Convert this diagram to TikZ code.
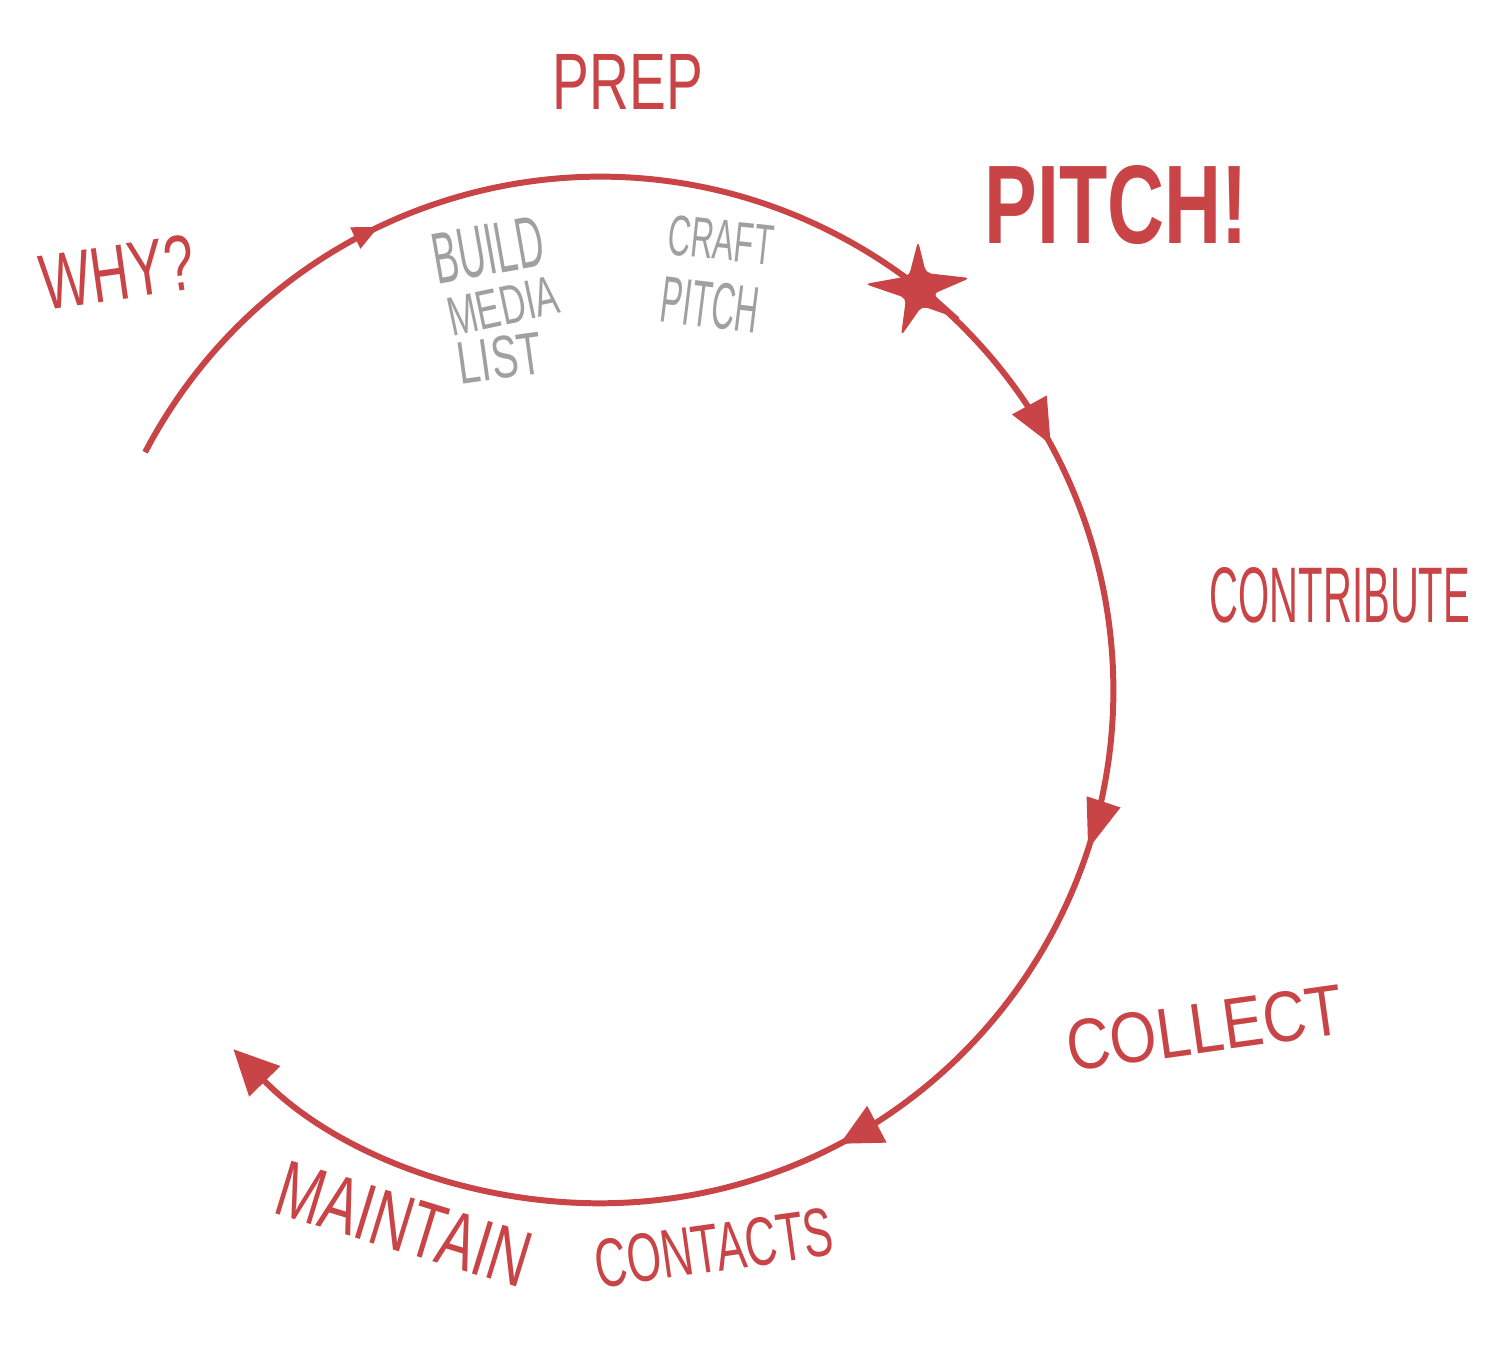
\documentclass[tikz,border=0pt]{standalone}
\usepackage{fontspec}
\setmainfont{Liberation Sans}
\usetikzlibrary{arrows.meta,decorations.markings,calc}
\definecolor{sred}{RGB}{200,68,70}
\definecolor{sgrey}{RGB}{160,160,160}
\newcommand{\fitt}[3]{\resizebox{#1cm}{#2cm}{#3}}
\begin{document}
\begin{tikzpicture}[x=0.01cm,y=0.01cm,
  lbl/.style={inner sep=0pt, text=sred},
  glbl/.style={inner sep=0pt, text=sgrey},
  cycleline/.style={draw=sred, line width=1.7pt},
]
\useasboundingbox (0,0) rectangle (1500,-1353);
\coordinate (c) at (600,-690);
\coordinate (s) at ($(c)+(152.4:5.13cm)$);
\draw[cycleline, -{Triangle[length=0.45cm,width=0.42cm]},
  postaction={decorate},
  decoration={markings,
    mark=at position 0.128 with {\arrow{Triangle[length=0.26cm,width=0.22cm]}},
    mark=at position 0.43 with {\arrow{Triangle[length=0.45cm,width=0.38cm]}},
    mark=at position 0.592 with {\arrow{Triangle[length=0.5cm,width=0.34cm]}},
    mark=at position 0.745 with {\arrow{Triangle[length=0.42cm,width=0.4cm]}}}]
  (s) arc[start angle=152.4, end angle=-135.6, radius=5.13cm];
% star
\fill[sred, rounded corners=1.5pt] (918,-241) -- (926,-273) -- (970,-278) -- (933,-294)
  -- (962,-320) -- (922,-306) -- (901,-336) -- (906,-298) -- (865,-284) -- (909,-276) -- cycle;
% labels
\node[lbl] (prep) at (628,-82) {\fitt{1.50}{0.55}{PREP}};
\node[lbl, rotate=8] (why) at (117,-272) {\fitt{1.55}{0.55}{WHY?}};
\node[lbl] (pitch) at (1116,-205) {\fitt{2.63}{0.78}{\bfseries PITCH!}};
\node[glbl, rotate=10] (build) at (488,-250) {\fitt{1.12}{0.50}{BUILD}};
\node[glbl, rotate=12] (media) at (503,-306) {\fitt{1.12}{0.38}{MEDIA}};
\node[glbl, rotate=8] (list) at (500,-358) {\fitt{0.85}{0.42}{LIST}};
\node[glbl, rotate=-6] (craft) at (721,-240) {\fitt{1.05}{0.40}{CRAFT}};
\node[glbl, rotate=-7] (pitchg) at (710,-305) {\fitt{0.98}{0.46}{PITCH}};
\node[lbl] (contribute) at (1340,-595) {\fitt{2.60}{0.55}{CONTRIBUTE}};
\node[lbl, rotate=8] (collect) at (1205,-1028) {\fitt{2.78}{0.50}{COLLECT}};
\node[lbl, rotate=-17] (maintain) at (404,-1224) {\fitt{2.60}{0.55}{MAINTAIN}};
\node[lbl, rotate=8] (contacts) at (714,-1248) {\fitt{2.40}{0.48}{CONTACTS}};
\end{tikzpicture}
\end{document}
